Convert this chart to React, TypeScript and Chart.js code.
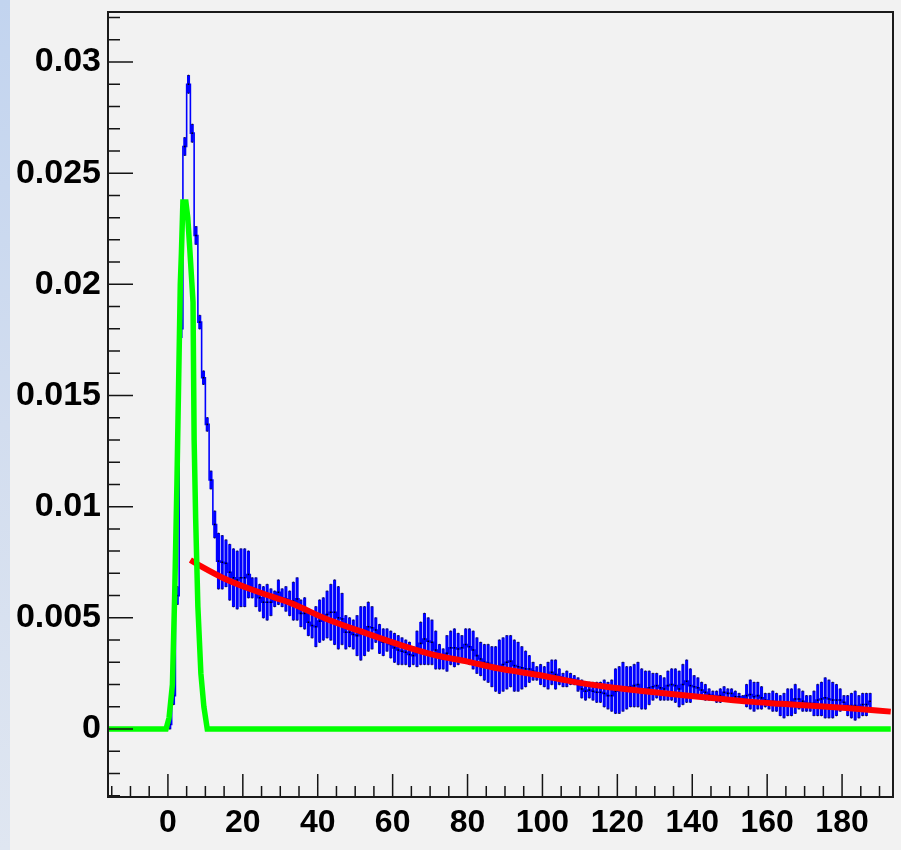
import React, { useEffect, useRef } from 'react';
import { Chart, registerables } from 'chart.js';

Chart.register(...registerables);

// ---- Data ----
const binStart = 0;
const binWidth = 1;

// Blue histogram: bin contents (bins of width 1 starting at 0)
const blueValues = [
  0.0002, 0.0015, 0.006, 0.018, 0.0262, 0.029, 0.0268, 0.0222, 0.0183, 0.0158, 0.0137, 0.0112, 0.0092,
  0.00755, 0.0075, 0.00745, 0.00705, 0.0068, 0.0067, 0.0068, 0.0068,
  0.00695, 0.00635, 0.00615, 0.0059, 0.0057, 0.0057, 0.0057, 0.00585, 0.00615, 0.0059,
  0.00585, 0.00565, 0.00575, 0.00585, 0.0052, 0.0052, 0.0048, 0.00465, 0.0046, 0.00485,
  0.00495, 0.00515, 0.00525, 0.00525, 0.005, 0.00495, 0.00435, 0.00435, 0.00425, 0.0042,
  0.0043, 0.0044, 0.0046, 0.00455, 0.00445, 0.00405, 0.0039, 0.004, 0.0038, 0.00365,
  0.00355, 0.0035, 0.00345, 0.00335, 0.0033, 0.0036, 0.00385, 0.00405, 0.00395, 0.0039,
  0.00355, 0.00325, 0.00315, 0.0034, 0.00365, 0.00365, 0.0036, 0.00365, 0.0038, 0.0037,
  0.00355, 0.0033, 0.00315, 0.003, 0.00295, 0.0028, 0.0027, 0.0028, 0.0029, 0.003,
  0.00305, 0.00285, 0.0028, 0.00275, 0.0027, 0.0027, 0.0026, 0.0025, 0.00245, 0.00235,
  0.0024, 0.00255, 0.00245, 0.00235, 0.0022, 0.00225, 0.00225, 0.0022, 0.002, 0.0018,
  0.0017, 0.00175, 0.0017, 0.00165, 0.00165, 0.0016, 0.0015, 0.0015, 0.0017, 0.00175,
  0.0019, 0.00185, 0.0019, 0.00195, 0.002, 0.0018, 0.00175, 0.00185, 0.0019, 0.00195,
  0.00185, 0.0018, 0.00195, 0.002, 0.00195, 0.0018, 0.002, 0.00215, 0.00195, 0.0019,
  0.00185, 0.00175, 0.00165, 0.00155, 0.0015, 0.00145, 0.0015, 0.00165, 0.0016, 0.0016,
  0.00145, 0.00145, 0.00135, 0.0015, 0.00155, 0.00145, 0.0015, 0.0014, 0.0013, 0.00125,
  0.00125, 0.0012, 0.00105, 0.00105, 0.0012, 0.0012, 0.00135, 0.00135, 0.00125, 0.00115,
  0.00115, 0.00115, 0.0013, 0.00135, 0.0014, 0.00135, 0.0013, 0.0013, 0.0013, 0.0012,
  0.00105, 0.00105, 0.00105, 0.001, 0.0011, 0.0011, 0.00125,
];

// Blue histogram: bin errors
const blueErrors = [
  0.0002, 0.0004, 0.0004, 0.0004, 0.0004, 0.0004, 0.0004, 0.0004, 0.0003, 0.0003, 0.0003, 0.0004, 0.0006,
  0.00125, 0.0012, 0.00105, 0.00125, 0.0013, 0.0013, 0.0013, 0.0013,
  0.00105, 0.00045, 0.00065, 0.0006, 0.0007, 0.0008, 0.0006, 0.00035, 0.00055, 0.0004,
  0.00055, 0.00055, 0.00085, 0.00095, 0.0006, 0.0007, 0.0006, 0.00055, 0.0009, 0.00095,
  0.00095, 0.00105, 0.00125, 0.00145, 0.0014, 0.00115, 0.00075, 0.00065, 0.00065, 0.0009,
  0.0012, 0.0011, 0.0011, 0.00095, 0.00055, 0.00065, 0.0006, 0.0005, 0.0006, 0.00065,
  0.00065, 0.0006, 0.00055, 0.00055, 0.0004, 0.0008, 0.00095, 0.00115, 0.00105, 0.001,
  0.00085, 0.00055, 0.00045, 0.0008, 0.00075, 0.00085, 0.0007, 0.00055, 0.0007, 0.0008,
  0.00085, 0.0008, 0.00075, 0.0008, 0.00085, 0.0009, 0.001, 0.0012, 0.0012, 0.0012,
  0.00115, 0.00115, 0.0011, 0.00095, 0.0008, 0.0006, 0.0004, 0.0003, 0.00045, 0.00045,
  0.0006, 0.00055, 0.00065, 0.00035, 0.0003, 0.00035, 0.00025, 0.0002, 0.0003, 0.0004,
  0.0004, 0.00035, 0.0004, 0.00045, 0.00045, 0.0006, 0.0006, 0.0007, 0.001, 0.00105,
  0.0011, 0.00095, 0.0009, 0.00095, 0.001, 0.0009, 0.00085, 0.00075, 0.0006, 0.00055,
  0.00055, 0.0005, 0.00065, 0.0007, 0.00075, 0.0008, 0.0009, 0.00095, 0.00075, 0.0005,
  0.00045, 0.00035, 0.00035, 0.00025, 0.0002, 0.00025, 0.0003, 0.00025, 0.0002, 0.0002,
  0.00025, 0.00015, 0.00015, 0.0005, 0.00065, 0.00065, 0.0006, 0.0005, 0.0003, 0.00035,
  0.00045, 0.0004, 0.00045, 0.00055, 0.0006, 0.0006, 0.00065, 0.00045, 0.00045, 0.00035,
  0.00035, 0.00055, 0.0007, 0.00075, 0.0009, 0.00085, 0.0008, 0.0007, 0.0005, 0.0003,
  0.00045, 0.00055, 0.00065, 0.0005, 0.0005, 0.0005, 0.00035,
];

// Red fit curve
const redX = [6, 9, 15, 24, 33, 42, 53, 62, 71, 80, 88, 99, 108, 117, 126, 135, 146, 155, 164, 173, 182, 193];
const redY = [0.0076, 0.0073, 0.00677, 0.00617, 0.00565, 0.00497, 0.0043, 0.00378, 0.00333, 0.00303, 0.00273,
  0.00243, 0.00213, 0.0019, 0.00172, 0.00156, 0.00138, 0.00123, 0.00113, 0.00103, 0.00093, 0.00078];

// Green peak curve
const greenX = [-16, -0.5, 0.3, 1.2, 1.8, 2.4, 2.9, 3.3, 3.6, 4.0, 4.8, 5.3, 5.8, 6.3, 6.7, 7.0, 7.4, 8.0, 8.8, 9.6, 10.5, 193];
const greenY = [0, 0, 0.0005, 0.002, 0.006, 0.011, 0.016, 0.02, 0.0214, 0.0237, 0.0237, 0.023, 0.0217, 0.0203,
  0.0192, 0.013, 0.0095, 0.0055, 0.0025, 0.001, 0, 0];

// Axes
const xMin = -16;
const xMax = 193.6;
const yMin = -0.00306;
const yMax = 0.03225;
const xTickValues = [0, 20, 40, 60, 80, 100, 120, 140, 160, 180];
const xTickLabels = ['0', '20', '40', '60', '80', '100', '120', '140', '160', '180'];
const xMinorStep = 5;
const yTickValues = [0, 0.005, 0.01, 0.015, 0.02, 0.025, 0.03];
const yTickLabels = ['0', '0.005', '0.01', '0.015', '0.02', '0.025', '0.03'];
const yMinorStep = 0.001;

const FONT = '"Liberation Sans", Arial, Helvetica, sans-serif';

const rootAxesPlugin = {
  id: 'rootAxes',
  afterDatasetsDraw(chart: any) {
    const { ctx, chartArea: a, scales } = chart;
    const xs = scales.x;
    const ys = scales.y;
    ctx.save();
    ctx.strokeStyle = '#151515';
    ctx.lineWidth = 1.5;
    ctx.beginPath();
    const xStart = Math.ceil(xMin / xMinorStep) * xMinorStep;
    for (let v = xStart; v <= xMax; v += xMinorStep) {
      const p = xs.getPixelForValue(v);
      const major = xTickValues.includes(v);
      const len = major ? 23 : 11;
      ctx.moveTo(p, a.bottom);
      ctx.lineTo(p, a.bottom - len);
    }
    const iStart = Math.ceil(yMin / yMinorStep);
    const iEnd = Math.floor(yMax / yMinorStep);
    for (let i = iStart; i <= iEnd; i++) {
      const v = i * yMinorStep;
      const p = ys.getPixelForValue(v);
      const major = i % 5 === 0;
      const len = major ? 25 : 12;
      ctx.moveTo(a.left, p);
      ctx.lineTo(a.left + len, p);
    }
    ctx.stroke();
    ctx.lineWidth = 2;
    ctx.strokeStyle = '#1a1a1a';
    ctx.strokeRect(a.left, a.top, a.right - a.left, a.bottom - a.top);
    ctx.restore();
  },
};

export default function App() {
  const ref = useRef<HTMLCanvasElement>(null);

  useEffect(() => {
    if (!ref.current) return;
    const centers = blueValues.map((_, i) => binStart + (i + 0.5) * binWidth);
    const errorData = blueValues.map((v, i) => ({ x: centers[i], y: [v - blueErrors[i], v + blueErrors[i]] }));
    const capData = blueValues.flatMap((v, i) => [
      { x: centers[i], y: v - blueErrors[i] },
      { x: centers[i], y: v + blueErrors[i] },
    ]);
    const lineData = blueValues.map((v, i) => ({ x: centers[i], y: v }));
    const redData = redX.map((x, i) => ({ x, y: redY[i] }));
    const greenData = greenX.map((x, i) => ({ x, y: greenY[i] }));

    const chart = new Chart(ref.current, {
      type: 'line',
      data: {
        datasets: [
          {
            type: 'line',
            label: 'peak',
            data: greenData,
            borderColor: '#00ff00',
            borderWidth: 5.5,
            pointRadius: 0,
            tension: 0,
            order: 0,
          } as any,
          {
            type: 'line',
            label: 'fit',
            data: redData,
            borderColor: '#ff0000',
            borderWidth: 6,
            pointRadius: 0,
            cubicInterpolationMode: 'monotone',
            order: 1,
          } as any,
          {
            type: 'line',
            label: 'hist',
            data: lineData,
            borderColor: '#0000ff',
            borderWidth: 1.6,
            stepped: 'middle',
            pointRadius: 1.1,
            pointStyle: 'rect',
            pointBackgroundColor: '#000000',
            pointBorderWidth: 0,
            order: 2,
          } as any,
          {
            type: 'line',
            label: 'caps',
            data: capData,
            showLine: false,
            pointRadius: 0.9,
            pointStyle: 'rect',
            pointBackgroundColor: '#202020',
            pointBorderWidth: 0,
            order: 3,
          } as any,
          {
            type: 'bar',
            label: 'errors',
            data: errorData,
            backgroundColor: '#0000ff',
            borderWidth: 0,
            barThickness: 2.4,
            order: 4,
          } as any,
        ],
      },
      options: {
        animation: false,
        responsive: false,
        events: [],
        layout: { padding: { left: 0, right: 8, top: 12, bottom: 0 } },
        plugins: { legend: { display: false }, tooltip: { enabled: false } },
        scales: {
          x: {
            type: 'linear',
            min: xMin,
            max: xMax,
            offset: false,
            grid: { display: false, drawTicks: false },
            border: { display: false },
            afterBuildTicks: (scale: any) => {
              scale.ticks = xTickValues.map((value) => ({ value }));
            },
            afterFit: (scale: any) => {
              scale.height = 53;
              scale.paddingLeft = 0;
              scale.paddingRight = 0;
            },
            ticks: {
              autoSkip: false,
              maxRotation: 0,
              padding: 7,
              color: '#000',
              font: { family: FONT, size: 32, weight: 'bold' },
              callback: (_v: any, i: number) => xTickLabels[i],
            },
          },
          y: {
            type: 'linear',
            min: yMin,
            max: yMax,
            grid: { display: false, drawTicks: false },
            border: { display: false },
            afterBuildTicks: (scale: any) => {
              scale.ticks = yTickValues.map((value) => ({ value }));
            },
            afterFit: (scale: any) => {
              scale.width = 108;
              scale.paddingTop = 0;
              scale.paddingBottom = 0;
            },
            ticks: {
              autoSkip: false,
              padding: 7,
              color: '#000',
              font: { family: FONT, size: 34, weight: 'bold' },
              callback: (_v: any, i: number) => yTickLabels[i],
            },
          },
        },
      } as any,
      plugins: [rootAxesPlugin],
    });
    return () => chart.destroy();
  }, []);

  return (
    <div
      style={{
        position: 'absolute',
        left: 0,
        top: 0,
        width: 901,
        height: 850,
        background: '#f2f2f2',
        overflow: 'hidden',
      }}
    >
      <div
        style={{
          position: 'absolute',
          left: 0,
          top: 0,
          width: 10,
          height: 850,
          background: 'linear-gradient(180deg, #c2d4ef 0%, #d2ddef 50%, #dfe6f1 100%)',
        }}
      />
      <canvas
        ref={ref}
        width={901}
        height={850}
        style={{ position: 'absolute', left: 0, top: 0, width: 901, height: 850, display: 'block' }}
      />
    </div>
  );
}
